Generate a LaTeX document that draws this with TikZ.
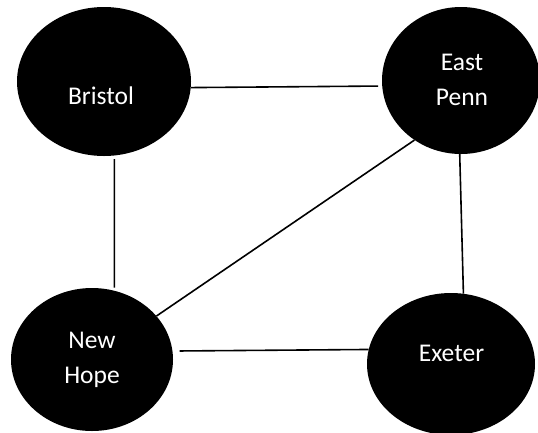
\documentclass[tikz,border=0pt]{standalone}
\usepackage{fontspec}
\setmainfont{Carlito}
\usetikzlibrary{shapes.geometric}
\begin{document}
\begin{tikzpicture}[x=1pt,y=-1pt,
  town/.style={ellipse, fill=black, draw=none, inner sep=0pt},
  townname/.style={text=white, anchor=base, inner sep=0pt,
    font=\fontsize{25.5}{35}\selectfont},
  road/.style={line width=1.6pt, black}]
\useasboundingbox (0,0) rectangle (538,432);
% towns
\node[town, minimum width=174pt, minimum height=149pt] (bristol) at (104,81.5) {};
\node[town, minimum width=158pt, minimum height=147pt] (eastpenn) at (461,80.5) {};
\node[town, minimum width=162pt, minimum height=143pt] (newhope) at (92,359.5) {};
\node[town, minimum width=168pt, minimum height=142pt] (exeter) at (451,364) {};
% town names
\node[townname] (bristolname) at (101,104) {Bristol};
\node[townname] (eastname) at (462,70) {East};
\node[townname] (pennname) at (462,105) {Penn};
\node[townname] (newname) at (92,348) {New};
\node[townname] (hopename) at (92,383) {Hope};
\node[townname] (exetername) at (451.5,361) {Exeter};
% roads
\draw[road, shorten >=4pt] (bristol.-4.9) -- (eastpenn.184);
\draw[road, shorten <=3.5pt, shorten >=3pt] (bristol.-82.1) -- (newhope.72);
\draw[road] (eastpenn.232.8) -- (newhope.34.4);
\draw[road] (eastpenn.269.2) -- (exeter.80.3);
\draw[road, shorten <=7pt] (newhope.6.2) -- (exeter.170.4);
\end{tikzpicture}
\end{document}
